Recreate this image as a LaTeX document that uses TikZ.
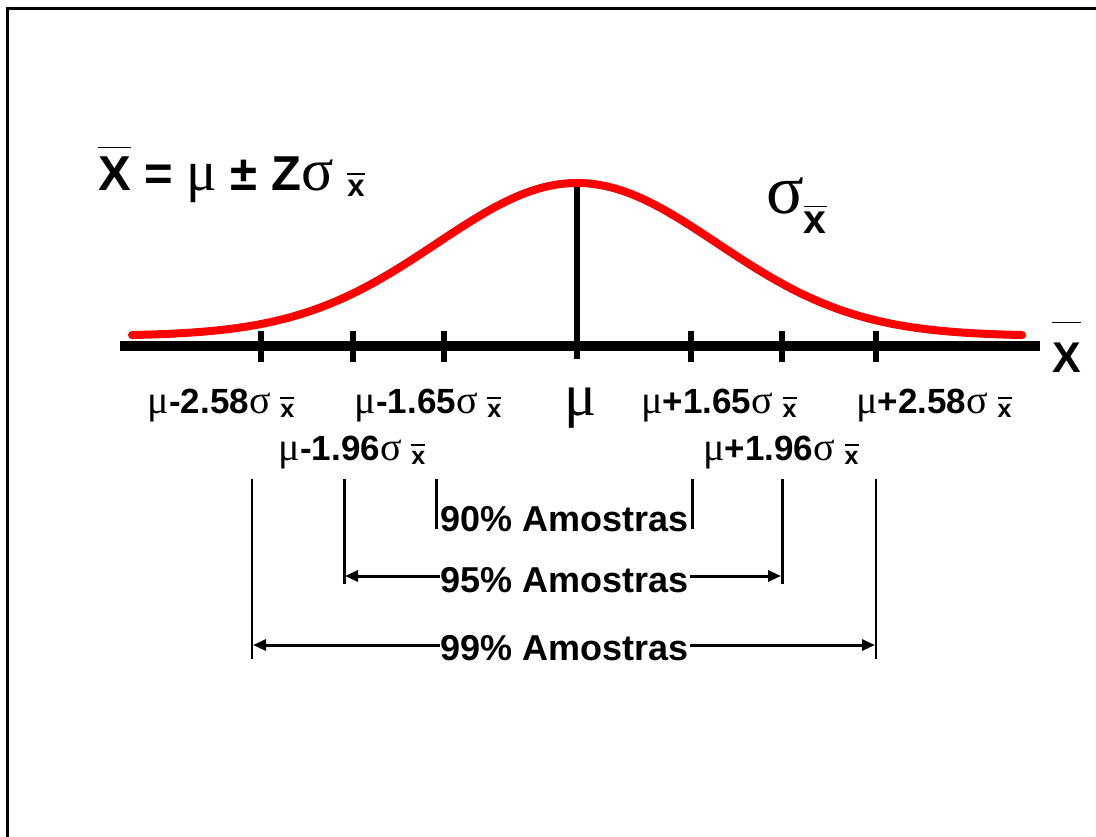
\documentclass[tikz,border=0pt]{standalone}
\usepackage{fontspec}
\setmainfont{Liberation Sans}
\newfontfamily\grk{Liberation Serif}
\usetikzlibrary{arrows.meta}
\newcommand\gk[2]{{\fontsize{#1}{#1}\grk\mdseries #2}}
\newcommand\subxbar{\raisebox{-4pt}{\vbox{\hrule height 1.4pt\kern 5pt\hbox{\fontsize{25}{25}\selectfont\bfseries x}}}}
\newcommand\lbl[1]{\gk{40}{μ}#1\gk{40}{σ}\ \subxbar}
\tikzset{
  lbltext/.style={font=\fontsize{35}{40}\selectfont\bfseries, anchor=base, inner sep=0pt},
  amtext/.style={font=\fontsize{36}{40}\selectfont\bfseries, anchor=base, inner sep=1pt},
  tick/.style={line width=6pt},
  rng/.style={line width=3pt},
  rngthin/.style={line width=2pt},
  dimarrow/.style={line width=3pt, {Triangle[length=13pt,width=11pt]}-{Triangle[length=13pt,width=11pt]}},
}
\begin{document}
\begin{tikzpicture}[x=1pt,y=-1pt]
\useasboundingbox[fill=white] (0,0) rectangle (1096,837);
% frame
\draw[line width=3pt] (7.5,837) -- (7.5,8.5) -- (1096,8.5);
% axis
\coordinate (axL) at (120,346);
\coordinate (axR) at (1040,346);
\draw[line width=10pt] (axL) -- (axR);
% ticks
\foreach \n/\xx in {m258/261, m196/353, m165/444, p165/691, p196/782, p258/876}{
  \coordinate (t\n) at (\xx,346);
  \draw[tick] (\xx,331) -- (\xx,362);
}
% center line
\coordinate (peak) at (577,184);
\coordinate (cbot) at (577,359);
\draw[line width=6pt] (peak) -- (cbot);
% curve
\draw[red, line width=8pt, line cap=round] plot[domain=132:1022, samples=120, smooth] (\x, {336-153*exp(-((\x-577)/140)^2/2)});
% formula
\node[anchor=base west, inner sep=0pt, font=\fontsize{49}{54}\selectfont\bfseries] (formula) at (98,191)
  {\vbox{\hrule height 1.6pt\kern 9pt\hbox{X}}\ = \gk{57}{μ} ± Z\gk{60}{σ}\ \raisebox{-6pt}{\vbox{\hrule height 1.4pt\kern 6pt\hbox{\fontsize{31}{31}\selectfont x}}}};
% sigma xbar
\node[anchor=base west, inner sep=0pt] (sig) at (766,214)
  {\gk{70}{σ}\raisebox{-20pt}{\vbox{\hrule height 1.5pt\kern 5pt\hbox{\fontsize{41}{41}\selectfont\bfseries x}}}};
% X axis label
\node[anchor=base west, inner sep=0pt, font=\fontsize{43}{48}\selectfont\bfseries] (xlab) at (1052,372)
  {\vbox{\hrule height 1.6pt\kern 19pt\hbox{X}}};
% tick labels
\node[lbltext] (lm258) at (221,413) {\lbl{-2.58}};
\node[lbltext] (lm165) at (428,413) {\lbl{-1.65}};
\node[lbltext] (lp165) at (719,413) {\lbl{+1.65}};
\node[lbltext] (lp258) at (934,413) {\lbl{+2.58}};
\node[lbltext] (lm196) at (352,460) {\lbl{-1.96}};
\node[lbltext] (lp196) at (781,460) {\lbl{+1.96}};
\node[anchor=base, inner sep=0pt] (mu) at (581,415) {\gk{60}{μ}};
% range lines
\coordinate (a90t) at (436,479); \coordinate (a90b) at (436,529);
\coordinate (b90t) at (692,479); \coordinate (b90b) at (692,529);
\coordinate (a95t) at (344,479); \coordinate (a95b) at (344,584);
\coordinate (b95t) at (782,479); \coordinate (b95b) at (782,584);
\coordinate (a99t) at (252,479); \coordinate (a99b) at (252,659);
\coordinate (b99t) at (876,479); \coordinate (b99b) at (876,659);
\draw[rng] (a90t) -- (a90b);
\draw[rng] (b90t) -- (b90b);
\draw[rng] (a95t) -- (a95b);
\draw[rng] (b95t) -- (b95b);
\draw[rngthin] (a99t) -- (a99b);
\draw[rngthin] (b99t) -- (b99b);
\coordinate (a95m) at (345,576); \coordinate (b95m) at (781,576);
\coordinate (a99m) at (253,645); \coordinate (b99m) at (875,645);
\draw[dimarrow] (a95m) -- (b95m);
\draw[dimarrow] (a99m) -- (b99m);
\node[amtext] (t90) at (565,531) {90\% Amostras};
\node[amtext, fill=white] (t95) at (565,592) {95\% Amostras};
\node[amtext, fill=white] (t99) at (565,660) {99\% Amostras};
\end{tikzpicture}
\end{document}
